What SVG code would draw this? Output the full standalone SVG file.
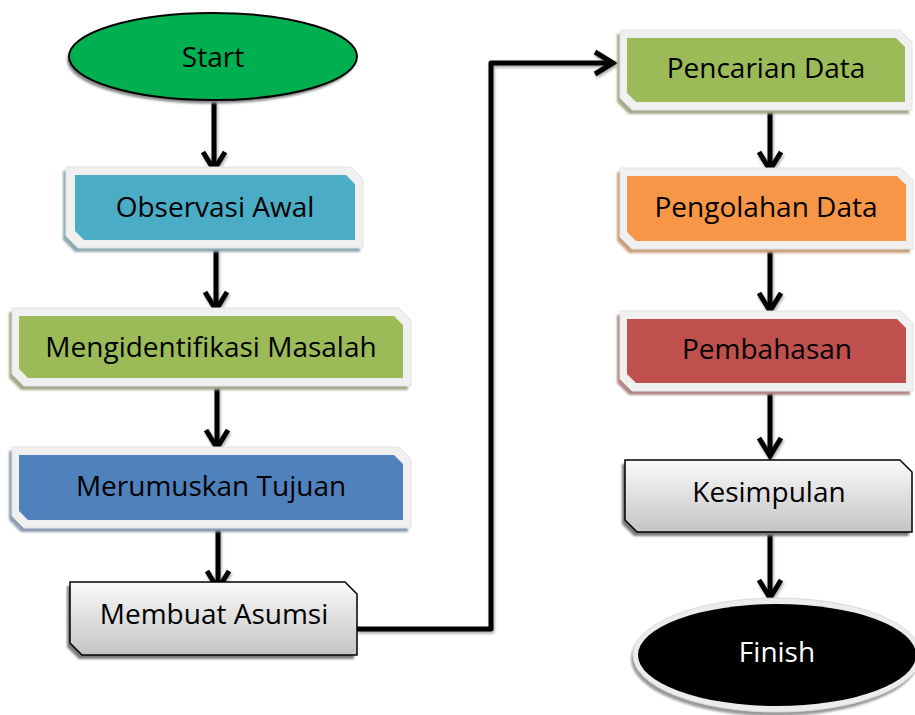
<svg xmlns="http://www.w3.org/2000/svg" width="915" height="715" viewBox="0 0 915 715">
<style>
.t{font-family:"Open Sans","Liberation Sans",sans-serif;font-size:28px;fill:#000;text-anchor:middle}
.frame{fill:#f0f0f0;stroke:#e2e2e2;stroke-width:1}
.gbox{fill:url(#grey);stroke:#000;stroke-width:1.5}
.sh{filter:url(#blur)}
.con{fill:none;stroke:#000;stroke-width:5;stroke-linejoin:round;marker-end:url(#arr)}
</style>
<defs>
<linearGradient id="grey" x1="0" y1="0" x2="0" y2="1">
<stop offset="0" stop-color="#fafafa"/>
<stop offset="1" stop-color="#c4c4c4"/>
</linearGradient>
<filter id="blur" x="-10%" y="-10%" width="120%" height="130%"><feGaussianBlur stdDeviation="1.2"/></filter>
<filter id="lsh" x="-20%" y="-20%" width="140%" height="140%"><feDropShadow dx="1" dy="2" stdDeviation="1.5" flood-color="#000" flood-opacity="0.35"/></filter>
<marker id="arr" markerUnits="userSpaceOnUse" markerWidth="32" markerHeight="32" viewBox="-24 -16 32 32" refX="0" refY="0" orient="auto">
<path d="M-18,-11 L0,0 L-18,11" fill="none" stroke="#000" stroke-width="5" stroke-linejoin="miter"/>
</marker>
</defs>

<g id="connectors" filter="url(#lsh)">
<path class="con" d="M214,100 L214,170"/>
<path class="con" d="M216,248 L216,310"/>
<path class="con" d="M217,386 L217,448"/>
<path class="con" d="M218,528 L218,589"/>
<path class="con" d="M357,629 L491,629 L491,63 L613,63"/>
<path class="con" d="M770,110 L770,170"/>
<path class="con" d="M770,249 L770,311"/>
<path class="con" d="M770,391 L770,456"/>
<path class="con" d="M770,532 L770,598"/>
</g>

<g id="start">
<ellipse class="sh" cx="211" cy="60" rx="144" ry="43.5" fill="#8a8a8a"/>
<ellipse cx="213" cy="56.5" rx="144" ry="43.5" fill="#00B050" stroke="#000" stroke-width="2"/>
<text class="t" x="213" y="67">Start</text>
</g>

<g id="observasi-awal">
<polygon class="sh" transform="translate(-3,4)" points="66,167 351,167 363,179 363,248 78,248 66,236" fill="#8fa9b2"/>
<polygon class="frame" points="66,167 351,167 363,179 363,248 78,248 66,236"/>
<polygon points="75,175 346,175 355,184 355,240 84,240 75,231" fill="#4BACC6"/>
<text class="t" x="215" y="217">Observasi Awal</text>
</g>

<g id="mengidentifikasi-masalah">
<polygon class="sh" transform="translate(-3,4)" points="12,308 399,308 411,320 411,386 24,386 12,374" fill="#a2aa8a"/>
<polygon class="frame" points="12,308 399,308 411,320 411,386 24,386 12,374"/>
<polygon points="19,316 394,316 403,325 403,378 28,378 19,369" fill="#9BBB59"/>
<text class="t" x="211" y="357">Mengidentifikasi Masalah</text>
</g>

<g id="merumuskan-tujuan">
<polygon class="sh" transform="translate(-3,4)" points="12,447 399,447 411,459 411,528 24,528 12,516" fill="#8d9bb4"/>
<polygon class="frame" points="12,447 399,447 411,459 411,528 24,528 12,516"/>
<polygon points="19,455 394,455 403,464 403,520 28,520 19,511" fill="#4F81BD"/>
<text class="t" x="211" y="496">Merumuskan Tujuan</text>
</g>

<g id="membuat-asumsi">
<polygon class="sh" transform="translate(-3,4)" points="70,582 345,582 357,594 357,655 82,655 70,643" fill="#7a7a7a"/>
<polygon class="gbox" points="70,582 345,582 357,594 357,655 82,655 70,643"/>
<text class="t" x="214" y="624">Membuat Asumsi</text>
</g>

<g id="pencarian-data">
<polygon class="sh" transform="translate(-3,4)" points="620,30 900,30 912,42 912,110 632,110 620,98" fill="#a2aa8a"/>
<polygon class="frame" points="620,30 900,30 912,42 912,110 632,110 620,98"/>
<polygon points="627,38 896,38 905,47 905,102 636,102 627,93" fill="#9BBB59"/>
<text class="t" x="766" y="78">Pencarian Data</text>
</g>

<g id="pengolahan-data">
<polygon class="sh" transform="translate(-3,4)" points="620,168 901,168 913,180 913,249 632,249 620,237" fill="#c8a07e"/>
<polygon class="frame" points="620,168 901,168 913,180 913,249 632,249 620,237"/>
<polygon points="627,176 897,176 906,185 906,241 636,241 627,232" fill="#F79646"/>
<text class="t" x="766" y="217">Pengolahan Data</text>
</g>

<g id="pembahasan">
<polygon class="sh" transform="translate(-3,4)" points="620,311 901,311 913,323 913,391 632,391 620,379" fill="#b08886"/>
<polygon class="frame" points="620,311 901,311 913,323 913,391 632,391 620,379"/>
<polygon points="627,319 897,319 906,328 906,383 636,383 627,374" fill="#C0504D"/>
<text class="t" x="767" y="359">Pembahasan</text>
</g>

<g id="kesimpulan">
<polygon class="sh" transform="translate(-3,4)" points="625,460 900,460 912,472 912,532 637,532 625,520" fill="#7a7a7a"/>
<polygon class="gbox" points="625,460 900,460 912,472 912,532 637,532 625,520"/>
<text class="t" x="769" y="502">Kesimpulan</text>
</g>

<g id="finish">
<ellipse class="sh" cx="775" cy="659" rx="144" ry="57" fill="#9a9a9a"/>
<ellipse cx="777" cy="655" rx="144" ry="57" fill="#ececec" stroke="#dcdcdc" stroke-width="1"/>
<ellipse cx="777" cy="655" rx="139" ry="51" fill="#000"/>
<text class="t" x="777" y="662" style="fill:#fff">Finish</text>
</g>
</svg>
